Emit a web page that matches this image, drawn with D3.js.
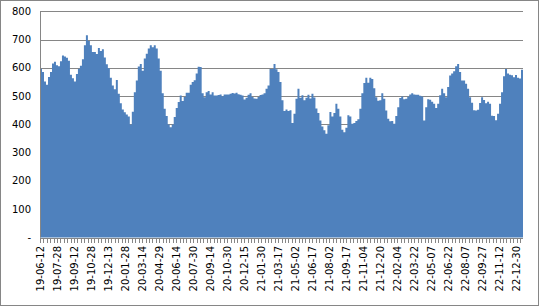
<!DOCTYPE html>
<html>
<head>
<meta charset="utf-8">
<script src="https://cdn.jsdelivr.net/npm/d3@7"></script>
<style>
  body { margin: 0; background: #fff; }
  text { font-family: "DejaVu Sans", Verdana, sans-serif; font-size: 10px; fill: #000; }
</style>
</head>
<body>
<div id="chart"></div>
<script>
// values, one every ~2px of plot width
const values = [
  597,585,552,540,568,585,615,622,609,606,
  623,644,640,636,625,576,563,552,578,597,
  607,630,680,715,695,680,656,656,649,670,
  660,666,637,613,599,565,538,524,557,508,
  475,453,443,435,428,400,445,514,555,605,
  614,590,633,650,668,680,673,680,668,633,
  590,510,455,430,400,390,400,426,458,479,
  502,483,497,512,512,540,550,556,580,604,
  603,510,
  496,514,518,506,514,502,502,504,506,500,
  506,506,506,508,511,509,512,507,505,502,
  488,494,505,510,497,492,491,497,504,506,
  510,526,538,596,596,614,595,585,550,485,
  447,453,447,450,405,438,491,526,494,503,
  485,494,505,492,508,495,456,440,414,393,
  379,367,397,444,428,440,473,455,428,381,
  372,388,432,428,402,405,412,418,455,510,
  546,
  565,547,565,561,528,496,484,485,510,491,
  449,420,411,412,402,430,461,493,499,489,
  491,498,506,510,506,505,505,501,499,414,
  461,489,487,480,473,458,473,503,526,510,
  496,532,573,580,588,606,614,585,555,555,
  544,526,496,477,450,449,452,476,496,486,
  475,480,473,431,430,415,438,473,514,570,
  596,580,576,574,567,575,565,562,593
];

const xLabels = [
  "19-06-12","19-07-28","19-09-12","19-10-28","19-12-13","20-01-28","20-03-14",
  "20-04-29","20-06-14","20-07-30","20-09-14","20-10-30","20-12-15","21-01-30",
  "21-03-17","21-05-02","21-06-17","21-08-02","21-09-17","21-11-04","21-12-20",
  "22-02-04","22-03-22","22-05-07","22-06-22","22-08-07","22-09-27","22-11-12",
  "22-12-30"
];

const yTicks = [0, 100, 200, 300, 400, 500, 600, 700, 800];

const width = 540
const height = 307
const plotLeft = 40
const plotRight = 523
const plotTop = 11.3
const plotBottom = 237.5
const labelSpan = 28.38   // plot width measured in label intervals
const gridColor = "#868686"

let svg = d3.select("#chart")
    .append("svg")
    .attr("width", width)
    .attr("height", height);

// outer chart border
svg.append("rect")
    .attr("x", 0.5).attr("y", 0.5)
    .attr("width", width - 2).attr("height", height - 2)
    .attr("fill", "none")
    .attr("stroke", gridColor);

let x = d3.scaleLinear().domain([0, values.length]).range([plotLeft, plotRight]);
let xl = d3.scaleLinear().domain([0, labelSpan]).range([plotLeft, plotRight]);
let y = d3.scaleLinear().domain([0, 800]).range([plotBottom, plotTop]);

// horizontal gridlines
svg.append("g")
    .selectAll("line")
    .data(yTicks.filter(d => d > 0))
    .enter()
    .append("line")
    .attr("x1", plotLeft).attr("x2", plotRight)
    .attr("y1", d => Math.round(y(d)) + 0.5)
    .attr("y2", d => Math.round(y(d)) + 0.5)
    .attr("stroke", gridColor);

// the area, one step per value
let area = d3.area()
    .curve(d3.curveStepAfter)
    .x((d, i) => x(i))
    .y0(y(0))
    .y1(d => y(d));

svg.append("path")
    .datum(values.concat([values[values.length - 1]]))
    .attr("fill", "#4F81BD")
    .attr("d", area);

// y axis line and labels
svg.append("line")
    .attr("x1", plotLeft + 0.5).attr("x2", plotLeft + 0.5)
    .attr("y1", plotTop).attr("y2", plotBottom)
    .attr("stroke", gridColor);

svg.append("g")
    .selectAll("text")
    .data(yTicks)
    .enter()
    .append("text")
    .attr("x", 31)
    .attr("y", d => y(d))
    .attr("dy", "0.35em")
    .attr("text-anchor", "end")
    .text(d => d === 0 ? "-" : d);

// x axis line, minor ticks every fifth of a label interval
svg.append("line")
    .attr("x1", plotLeft).attr("x2", plotRight)
    .attr("y1", Math.round(plotBottom) + 0.5).attr("y2", Math.round(plotBottom) + 0.5)
    .attr("stroke", gridColor);

svg.append("g")
    .selectAll("line")
    .data(d3.range(0, labelSpan, 0.2))
    .enter()
    .append("line")
    .attr("x1", d => Math.round(xl(d)) + 0.5)
    .attr("x2", d => Math.round(xl(d)) + 0.5)
    .attr("y1", Math.round(plotBottom))
    .attr("y2", Math.round(plotBottom) + 5)
    .attr("stroke", gridColor);

// rotated date labels
svg.append("g")
    .selectAll("text")
    .data(xLabels)
    .enter()
    .append("text")
    .attr("transform", (d, i) => "translate(" + xl(i) + ", 246) rotate(-90)")
    .attr("dy", "0.35em")
    .attr("text-anchor", "end")
    .text(d => d);
</script>
</body>
</html>
